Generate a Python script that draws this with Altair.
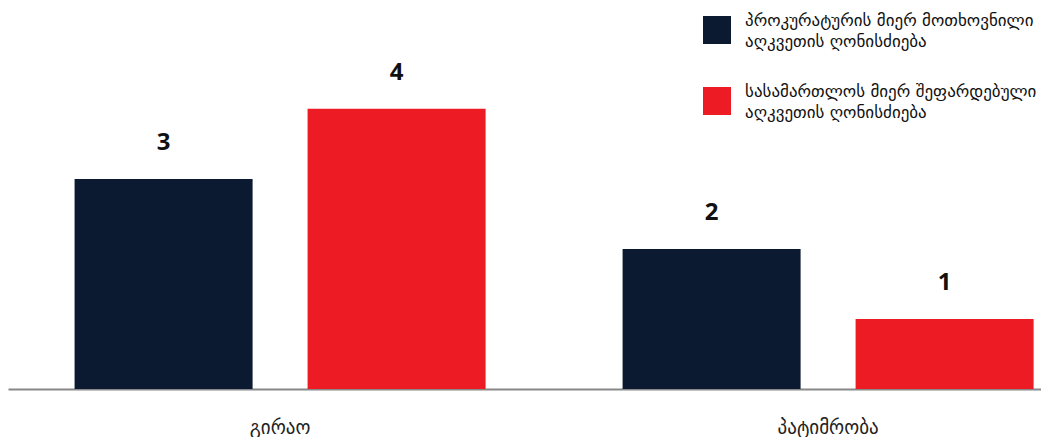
import altair as alt
import pandas as pd

categories = ["გირაო", "გირაო", "პატიმრობა", "პატიმრობა"]
series = [
    "პროკურატურის მიერ მოთხოვნილი\nაღკვეთის ღონისძიება",
    "სასამართლოს მიერ შეფარდებული\nაღკვეთის ღონისძიება",
    "პროკურატურის მიერ მოთხოვნილი\nაღკვეთის ღონისძიება",
    "სასამართლოს მიერ შეფარდებული\nაღკვეთის ღონისძიება",
]
values = [3, 4, 2, 1]
series_order = [series[0], series[1]]
colors = ["#0B1A30", "#ED1C24"]

df = pd.DataFrame({"cat": categories, "series": series, "value": values})

x = alt.X("cat:N", title=None, sort=["გირაო", "პატიმრობა"],
          scale=alt.Scale(paddingInner=0.25, paddingOuter=0.0675, align=0.9),
          axis=alt.Axis(labelAngle=0, ticks=False, domainColor="#888888", domainWidth=2,
                        labelFont="DejaVu Sans", labelFontSize=19, labelColor="#222222",
                        labelPadding=29, grid=False))
xo = alt.XOffset("series:N", sort=series_order, scale=alt.Scale(paddingInner=0.236))
y = alt.Y("value:Q", title=None, scale=alt.Scale(domain=[0, 5.44]), axis=None)

bars = alt.Chart(df).mark_bar().encode(
    x=x, xOffset=xo, y=y,
    color=alt.Color("series:N", sort=series_order,
                    scale=alt.Scale(domain=series_order, range=colors),
                    legend=alt.Legend(title=None, orient="none", legendX=695, legendY=8,
                                      symbolType="square", symbolSize=784, symbolStrokeWidth=0,
                                      symbolOpacity=1, labelBaseline="bottom",
                                      labelFont="DejaVu Sans", labelFontSize=17, labelColor="#111111",
                                      labelLimit=400, labelOffset=14, rowPadding=33,
                                      labelExpr="split(datum.label, '\\n')")),
)

labels = alt.Chart(df).mark_text(font="Noto Sans", fontWeight="bold", fontSize=24,
                                 color="#111111", baseline="alphabetic", dy=-29).encode(
    x=x, xOffset=xo, y=y, text=alt.Text("value:Q"))

chart = (bars + labels).properties(width=1033, height=381, padding=0).configure(
    style={"guide-label": {"lineHeight": 21}}
).configure_view(stroke=None)

chart.save("out.html", embed_options={"renderer": "svg", "actions": False})
